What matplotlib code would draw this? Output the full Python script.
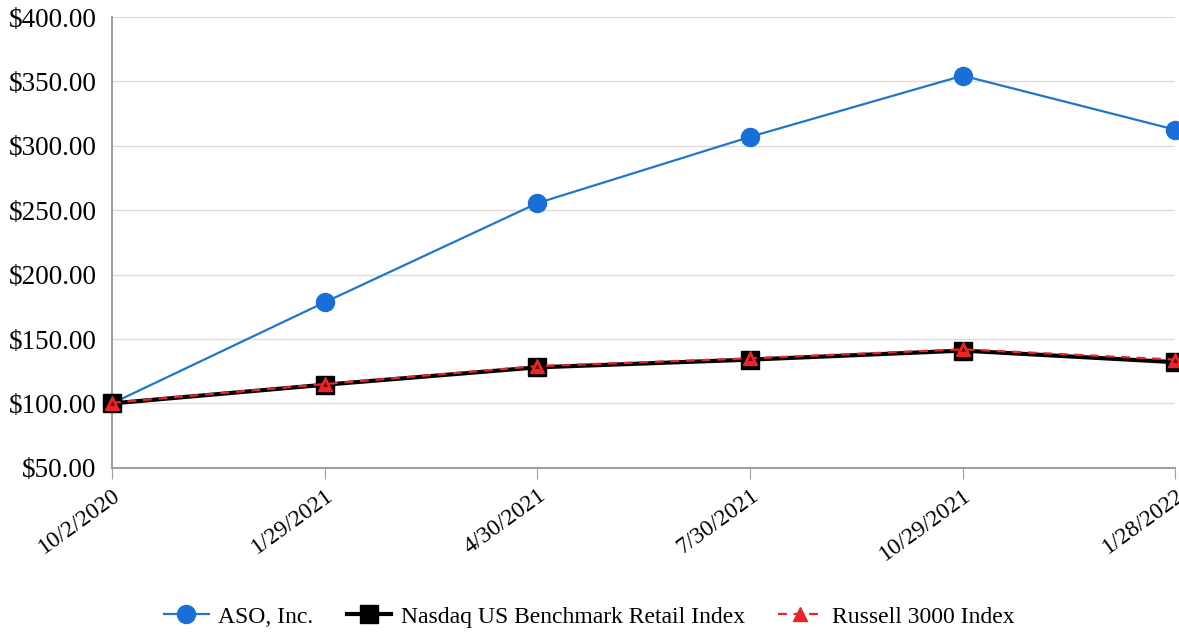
import matplotlib
matplotlib.use('Agg')
import matplotlib.pyplot as plt

plt.rcParams['font.family'] = ['Liberation Serif', 'DejaVu Serif']

dates = ['10/2/2020', '1/29/2021', '4/30/2021', '7/30/2021', '10/29/2021', '1/28/2022']
aso = [100.0, 178.5, 255.5, 307.0, 354.5, 312.5]
nasdaq = [100.0, 114.5, 128.0, 134.0, 141.0, 132.0]
russell = [100.5, 115.0, 129.0, 135.0, 142.0, 134.0]

fig = plt.figure(figsize=(11.79, 6.33), dpi=100)
ax = fig.add_axes([0.095, 0.261, 0.902, 0.712])

x = list(range(len(dates)))
ax.plot(x, aso, color='#1f77c8', lw=1.6, marker='o', ms=13, mfc='#1a6fd6', mec='#1a6fd6',
        label='ASO, Inc.', zorder=3, clip_on=False)
ax.plot(x, nasdaq, color='black', lw=3, marker='s', ms=13, mfc='black', mec='black',
        label='Nasdaq US Benchmark Retail Index', zorder=4, clip_on=False)
ax.plot(x, russell, color='#e8262a', lw=1.6, ls=(0, (4, 3)), marker='^', ms=10,
        mfc='#e8262a', mec='#e8262a', label='Russell 3000 Index', zorder=5, clip_on=False)
# dark centre of the triangles
ax.plot(x, russell, ls='none', marker='^', ms=3.5, mfc='#7a0000', mec='none', zorder=6, clip_on=False)

ax.set_xlim(0, len(dates) - 1)
ax.set_ylim(50, 400)
ax.set_yticks(range(50, 401, 50))
ax.set_yticklabels(['$%.2f' % v for v in range(50, 401, 50)], fontsize=19.5)
ax.set_xticks(x)
ax.set_xticklabels(dates, fontsize=17, rotation=36, ha='right', rotation_mode='anchor')
ax.tick_params(axis='y', length=0, pad=11)
ax.tick_params(axis='x', length=8, color='#a0a0a0', pad=4)
ax.grid(axis='y', color='#dcdcdc', lw=1)
ax.set_axisbelow(True)
for s in ['top', 'right']:
    ax.spines[s].set_visible(False)
for s in ['left', 'bottom']:
    ax.spines[s].set_color('#a0a0a0')
    ax.spines[s].set_linewidth(1.5)

h, l = ax.get_legend_handles_labels()
fig.legend(h, l, loc='lower center', bbox_to_anchor=(0.5, -0.025), ncol=3, frameon=False,
           fontsize=17, handlelength=1.9, columnspacing=1.4, handletextpad=0.4)

fig.savefig('out.png', dpi=100)
